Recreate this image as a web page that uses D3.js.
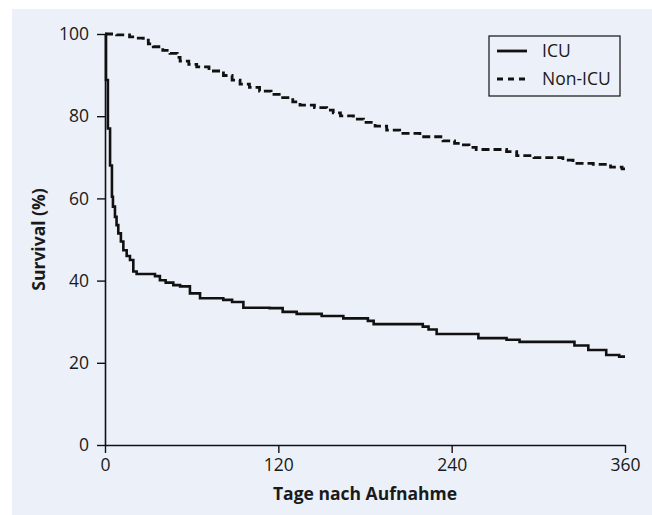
<!DOCTYPE html>
<html>
<head>
<meta charset="utf-8">
<script src="https://cdn.jsdelivr.net/npm/d3@7"></script>
<style>
  body { margin: 0; background: #ffffff; }
  svg { display: block; }
  text { font-family: "Open Sans", "Noto Sans", sans-serif; fill: #1a1a1a; }
</style>
</head>
<body>
<svg id="chart"></svg>
<script>
// Kaplan-Meier survival: [day, survival %]
const icuDays     = [0, 0.7, 2, 3.5, 4.8, 5.5, 6.9, 8, 9.2, 11, 12.7, 15, 17.3, 19.6, 21.9, 34.6, 38, 42, 47.3, 52, 58.8, 65.8, 81.9, 88, 95.8, 114, 123, 132.7, 150, 165, 182, 186, 220, 224, 229.6, 258.5, 278, 287, 325, 334.6, 347, 356, 360];
const icuSurvival = [100, 88.8, 77, 68, 60.4, 58, 55.5, 53.5, 51.5, 49.5, 47.4, 46, 45, 42.2, 41.6, 41.1, 40.1, 39.5, 38.9, 38.6, 36.9, 35.7, 35.3, 34.8, 33.4, 33.3, 32.4, 31.9, 31.4, 30.8, 30.2, 29.4, 28.8, 28.1, 27.0, 26.0, 25.6, 25.1, 24.2, 23.1, 21.9, 21.5, 21.5];

const nonIcuDays     = [0, 8, 17, 22, 26.5, 30, 33.4, 40, 45, 50, 52, 58, 63.5, 72, 82, 88, 93.5, 100, 107, 115, 123, 130, 135, 145, 153.5, 158, 163, 172, 179, 187, 195, 204, 218, 234, 242, 246, 252, 257, 278, 285, 297, 317, 324, 338, 350, 358, 360];
const nonIcuSurvival = [100, 99.8, 99.3, 99, 98.5, 97.6, 96.9, 96, 95.3, 94.3, 93.4, 92.6, 92.0, 91, 89.9, 88.8, 87.8, 87, 86.1, 85.3, 84.5, 83.5, 82.7, 82.1, 81.5, 80.8, 80.1, 79.3, 78.5, 77.6, 76.6, 75.8, 75.0, 74.0, 73.4, 73.0, 72.4, 71.9, 71.4, 70.4, 69.9, 69.3, 68.5, 68.3, 67.6, 67.2, 67.2];

const xTicks = [0, 120, 240, 360];
const yTicks = [0, 20, 40, 60, 80, 100];
const seriesNames = ["ICU", "Non-ICU"];

const width = 652, height = 515;
const margin = { top: 34, right: 27, bottom: 70, left: 105 };
const innerW = width - margin.left - margin.right;
const innerH = height - margin.top - margin.bottom;

const svg = d3.select("#chart")
    .attr("width", width)
    .attr("height", height);

// light blue panel behind everything
svg.append("rect")
    .attr("x", 12).attr("y", 9)
    .attr("width", width - 12).attr("height", height - 9)
    .attr("fill", "#ecf0f9");

const g = svg.append("g")
    .attr("transform", `translate(${margin.left},${margin.top})`);

const x = d3.scaleLinear().domain([0, 360]).range([0, innerW]);
const y = d3.scaleLinear().domain([0, 100]).range([innerH, 0]);

// axes
const xAxis = d3.axisBottom(x).tickValues(xTicks).tickSize(8).tickPadding(6).tickSizeOuter(0);
const yAxis = d3.axisLeft(y).tickValues(yTicks).tickSize(8).tickPadding(8).tickSizeOuter(0);

const xg = g.append("g")
    .attr("transform", `translate(0,${innerH})`)
    .call(xAxis);
const yg = g.append("g").call(yAxis);

[xg, yg].forEach(a => {
    a.select(".domain").attr("stroke", "#111").attr("stroke-width", 1.6);
    a.selectAll(".tick line").attr("stroke", "#111").attr("stroke-width", 1.4);
    a.selectAll(".tick text")
        .style("font-family", "'Open Sans', sans-serif")
        .style("font-size", "17.5px")
        .attr("fill", "#1a1a1a");
});

// axis titles
svg.append("text")
    .attr("x", margin.left + innerW / 2)
    .attr("y", 500)
    .attr("text-anchor", "middle")
    .style("font-size", "17.5px")
    .style("font-weight", "bold")
    .text("Tage nach Aufnahme");

svg.append("text")
    .attr("transform", `translate(45,${margin.top + innerH / 2}) rotate(-90)`)
    .attr("text-anchor", "middle")
    .style("font-size", "17.5px")
    .style("font-weight", "bold")
    .text("Survival (%)");

// survival curves
const line = d3.line()
    .x(d => x(d[0]))
    .y(d => y(d[1]))
    .curve(d3.curveStepAfter);

const icuData = icuDays.map((d, i) => [d, icuSurvival[i]]);
const nonIcuData = nonIcuDays.map((d, i) => [d, nonIcuSurvival[i]]);

g.append("path")
    .datum(nonIcuData)
    .attr("fill", "none")
    .attr("stroke", "#111")
    .attr("stroke-width", 2.8)
    .attr("stroke-dasharray", "8,4")
    .attr("d", line);

g.append("path")
    .datum(icuData)
    .attr("fill", "none")
    .attr("stroke", "#111")
    .attr("stroke-width", 2.6)
    .attr("d", line);

// legend
const legend = svg.append("g").attr("transform", "translate(489,36)");
legend.append("rect")
    .attr("width", 131).attr("height", 60)
    .attr("fill", "#ecf0f9")
    .attr("stroke", "#111").attr("stroke-width", 1.2);

seriesNames.forEach((name, i) => {
    const row = legend.append("g").attr("transform", `translate(0,${15 + i * 28})`);
    row.append("line")
        .attr("x1", 8).attr("x2", 38)
        .attr("stroke", "#111").attr("stroke-width", 2.8)
        .attr("stroke-dasharray", i === 1 ? "6,5" : null);
    row.append("text")
        .attr("x", 53).attr("y", 6)
        .style("font-size", "17.5px")
        .text(name);
});
</script>
</body>
</html>
